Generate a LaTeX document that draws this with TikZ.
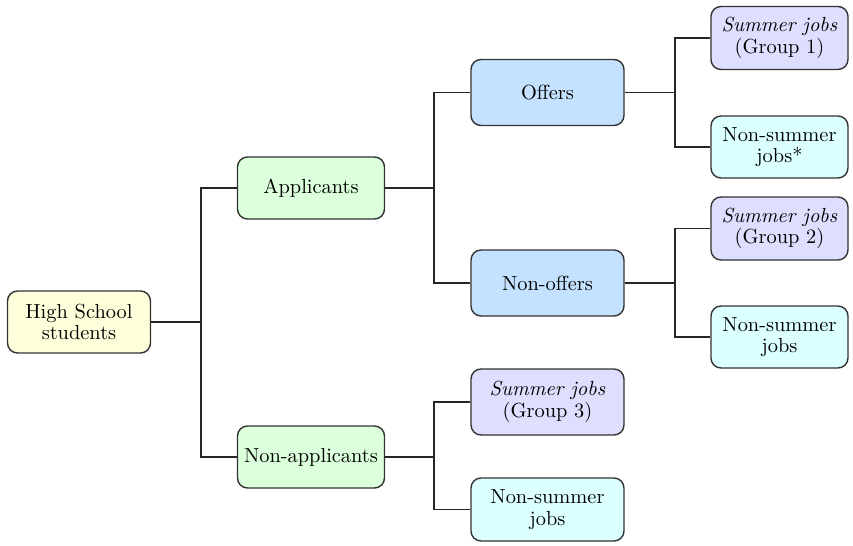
\documentclass[tikz,border=0pt]{standalone}
\usetikzlibrary{positioning,calc}
\definecolor{hsfill}{HTML}{FFFFDC}
\definecolor{grpfill}{HTML}{DCFFDC}
\definecolor{offfill}{HTML}{C4E2FF}
\definecolor{sumfill}{HTML}{DEDEFF}
\definecolor{nsfill}{HTML}{DCFFFF}
\tikzset{
    box/.style={draw=black!80, line width=0.7pt, rounded corners=5pt, align=center,
                inner sep=1pt, font=\rmfamily\fontsize{10.2}{10.8}\selectfont},
    hsbox/.style={box, fill=hsfill, minimum width=71.5pt, minimum height=31pt},
    grpbox/.style={box, fill=grpfill, minimum width=73.5pt, minimum height=31pt},
    offbox/.style={box, fill=offfill, minimum width=76.5pt, minimum height=33pt},
    sumbox/.style={box, fill=sumfill, minimum width=68.5pt, minimum height=31.5pt},
    nsbox/.style={box, fill=nsfill, minimum width=68.5pt, minimum height=31pt},
    link/.style={line width=0.6pt, black!85},
}

\begin{document}
\begin{tikzpicture}[x=0.5pt, y=-0.5pt]
    \useasboundingbox (0,0) rectangle (853,546);

    % Root
    \node[hsbox] (hs) at (79,322) {High School\\students};

    % Applicants / non-applicants
    \node[grpbox] (app) at (311,188) {Applicants};
    \node[grpbox] (napp) at (311,457) {Non-applicants};

    % Offers / non-offers
    \node[offbox] (off) at (547.5,92.5) {Offers};
    \node[offbox] (noff) at (547.5,283) {Non-offers};

    % Jobs
    \node[sumbox] (sum1) at (779.5,38) {\textit{Summer jobs}\\(Group 1)};
    \node[nsbox] (ns1) at (779.5,147) {Non-summer\\jobs*};
    \node[sumbox] (sum2) at (779.5,228.5) {\textit{Summer jobs}\\(Group 2)};
    \node[nsbox] (ns2) at (779.5,337) {Non-summer\\jobs};
    \node[offbox, fill=sumfill] (sum3) at (547.5,402) {\textit{Summer jobs}\\(Group 3)};
    \node[offbox, fill=nsfill, minimum height=31.5pt] (ns3) at (547.5,509.5) {Non-summer\\jobs};

    % Junctions
    \coordinate (j1) at (201,322);
    \coordinate (j2) at (434,188);
    \coordinate (j3) at (434,457);
    \coordinate (j4) at (675,92.5);
    \coordinate (j5) at (675,283);

    % Connectors
    \draw[link] (hs.east) -- (j1);
    \draw[link] (app.west) -| (j1);
    \draw[link] (napp.west) -| (j1);

    \draw[link] (app.east) -- (j2);
    \draw[link] (off.west) -| (j2);
    \draw[link] (noff.west) -| (j2);

    \draw[link] (napp.east) -- (j3);
    \draw[link] (sum3.west) -| (j3);
    \draw[link] (ns3.west) -| (j3);

    \draw[link] (off.east) -- (j4);
    \draw[link] (sum1.west) -| (j4);
    \draw[link] (ns1.west) -| (j4);

    \draw[link] (noff.east) -- (j5);
    \draw[link] (sum2.west) -| (j5);
    \draw[link] (ns2.west) -| (j5);
\end{tikzpicture}
\end{document}
